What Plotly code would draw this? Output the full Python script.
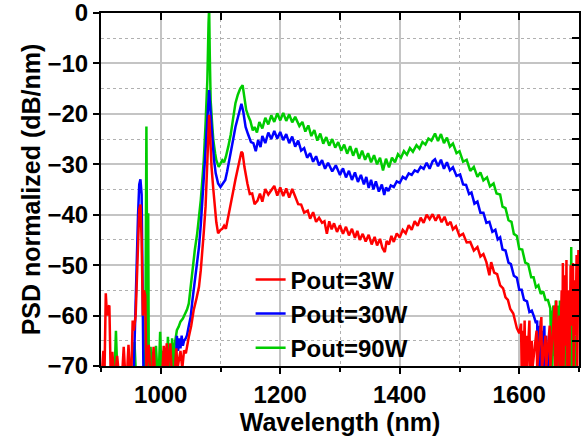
import plotly.graph_objects as go

# ---------------- data ----------------
# Pout=3W (red): low-wavelength noise + pump/Raman peaks, main body, long-wavelength noise
red_wl_a = [902,904,906,908,910,912,914,916,919,921,925,927,929,936,938,940,944,946,948,951,953,955,958,962,964,966,968,970,972,974,976,980,982,986,988,990,1003,1005,1007,1010,1012,1016,1018,1024,1026,1028,1033,1036,1039,1042,1045,1047,1051,1055,1060,1064,1067,1069,1072,1075,1077,1079,1081,1083,1085,1088,1090,1093,1096,1100,1103,1106,1109,1113,1117,1121,1125,1128,1132,1135,1137,1140]
red_db_a = [-70.5,-67,-70.5,-55.6,-60,-58.3,-58,-70.5,-67.2,-70.5,-70.5,-68,-70.5,-70.5,-66.2,-70.5,-70.5,-65.8,-70.5,-70.5,-61,-63,-60,-48,-39,-38,-45,-60,-55,-56,-70.5,-65.8,-70.5,-70.5,-66.2,-70.5,-70.5,-66,-70.5,-65.5,-70.5,-65.5,-70.5,-70.5,-66.5,-70.5,-67,-70.5,-66.9,-67.5,-65,-64.2,-62,-59,-56.5,-54.3,-51,-48.3,-43.5,-38.4,-33,-28.5,-20.2,-25,-30.5,-35,-38.4,-41.5,-43.7,-43,-42.8,-42.2,-42.8,-40.5,-38.4,-35.5,-33,-31.2,-29,-27.5,-27.8,-30.5]
red_wl_b = [1145,1149,1153,1157,1162,1166,1170,1175,1180,1185,1190,1195,1200,1205,1210,1215,1220,1225,1230,1235,1240,1246,1250,1255,1260,1265,1270,1274,1278,1282,1286,1290,1295,1300,1305,1310,1315,1320,1325,1329,1333,1338,1343,1348,1353,1358,1362,1367,1371,1375,1378,1382,1386,1390,1395,1400,1405,1410,1415,1420,1425,1430,1435,1440,1445,1450,1455,1460,1465,1470,1475,1480,1485,1489,1494,1500,1506,1512,1518,1524,1530,1535,1540,1545,1550,1553,1558,1563,1568,1573,1577,1581,1585,1590,1596]
red_db_b = [-33.8,-35.9,-35.8,-37.9,-37.2,-35.8,-37.4,-34.9,-36.0,-35.1,-34.3,-36.2,-34.6,-36.3,-34.8,-36.6,-34.9,-36.4,-37.9,-38.0,-39.6,-39.2,-40.8,-39.5,-41.4,-40.6,-41.6,-41.3,-43.8,-41.3,-42.9,-41.7,-43.4,-42.1,-43.8,-42.4,-44.1,-42.8,-44.6,-43.2,-45.0,-43.8,-45.3,-44.0,-45.9,-44.4,-46.1,-44.8,-46.6,-47.4,-45.2,-45.9,-44.2,-45.4,-43.7,-44.5,-43.0,-43.7,-42.1,-43.0,-41.3,-42.2,-40.6,-41.6,-40.0,-40.9,-39.9,-41.2,-40.0,-41.5,-40.4,-42.1,-41.4,-42.9,-42.3,-44.2,-43.8,-45.5,-45.4,-47.1,-46.4,-48.3,-47.8,-49.4,-52.0,-49.4,-51.5,-51.8,-54.0,-54.6,-56.4,-56.9,-58.7,-59.6,-62.5]
red_wl_c = [1600,1603,1604,1606,1607,1609,1610,1612,1613,1617,1618,1621,1622,1629,1630,1637,1638,1644,1645,1651,1652,1659,1660,1662,1663,1667,1668,1671,1672,1673,1674,1677,1678,1679,1680,1683,1684,1686,1687,1690,1691,1693,1694,1696,1697,1699]
red_db_c = [-63.5,-61.6,-70.5,-63,-70.5,-61,-70.5,-64,-70.5,-61,-70.5,-65,-70.5,-63,-70.5,-60.3,-70.5,-64,-70.5,-62,-70.5,-58,-70.5,-57,-70.5,-60,-70.5,-55,-70.5,-49.6,-70.5,-52,-66,-49,-70.5,-55,-70.5,-50,-62,-49.6,-70.5,-53,-64,-48,-70.5,-47]

# Pout=30W (blue)
blue_wl_a = [955,957,960,962,964,966,968,969,970,971,1025,1027,1029,1031,1033,1035,1037,1039,1042,1044,1047,1050,1053,1056,1060,1064,1067,1070,1073,1075,1078,1080,1081,1083,1086,1089,1092,1096,1100,1104,1108,1111,1114,1117,1121,1125,1129,1132,1135,1138,1142]
blue_db_a = [-70.5,-60.3,-50,-40,-34,-33,-36,-50,-65,-70.5,-70.5,-64,-67,-64.5,-66.5,-64,-66,-65,-64.5,-63.9,-62,-60.3,-57,-54,-50.5,-46.4,-42,-37.1,-31,-27.2,-21,-16,-15.3,-19,-25.2,-29,-31.8,-33.8,-34.5,-33.9,-33.1,-31.5,-29.8,-27.8,-25.2,-22.6,-20.5,-19,-18,-19.5,-22.6]
blue_wl_b = [1146,1151,1155,1159,1163,1167,1170,1175,1180,1185,1190,1195,1200,1205,1210,1215,1220,1225,1230,1235,1240,1245,1250,1255,1260,1265,1270,1275,1280,1287,1293,1300,1305,1310,1315,1320,1325,1330,1335,1340,1344,1348,1352,1356,1360,1365,1370,1374,1377,1381,1385,1390,1395,1400,1405,1410,1415,1420,1425,1430,1435,1440,1445,1450,1455,1459,1464,1469,1474,1479,1484,1489,1495,1501,1506,1511,1516,1520,1525,1530,1535,1540,1545,1550,1555,1560,1564,1568,1572,1577,1582,1586,1591,1596,1600,1604,1608,1613,1617,1621]
blue_db_b = [-24.0,-25.6,-25.8,-27.4,-25.2,-26.6,-24.4,-25.8,-23.7,-25.0,-23.4,-24.9,-23.6,-25.2,-24.0,-25.8,-24.5,-26.5,-25.3,-27.3,-26.8,-28.7,-27.8,-29.5,-28.4,-30.2,-29.2,-30.9,-29.7,-31.4,-30.2,-32.1,-30.8,-32.6,-31.3,-33.1,-31.6,-33.5,-32.1,-34.0,-32.5,-34.7,-33.1,-35.0,-33.4,-35.4,-34.0,-36.1,-34.6,-35.3,-34.2,-34.5,-33.4,-33.7,-32.5,-32.9,-31.8,-32.1,-31.2,-31.5,-30.5,-30.9,-29.7,-30.9,-29.4,-29.0,-30.4,-29.1,-30.9,-29.6,-31.2,-30.6,-32.3,-32.0,-34.0,-34.1,-35.9,-35.6,-37.8,-37.4,-39.6,-39.6,-41.6,-41.4,-43.4,-43.0,-44.9,-44.5,-46.9,-47.1,-49.5,-49.8,-52.1,-52.5,-54.9,-54.9,-56.9,-57.2,-59.3,-59.0]
blue_wl_c = [1625,1628,1630,1631,1633,1634,1636,1637,1639,1640,1642,1643,1645,1646,1648,1649]
blue_db_c = [-60.3,-61.5,-61.0,-70.5,-62,-70.5,-61,-70.5,-63,-70.5,-62,-70.5,-64,-70.5,-66,-70.5]

# Pout=90W (green)
green_wl_a = [923,925,927,955,956,958,974,975,976,977,978,979,980,983,985,990,992,994,997,999,1001,1004,1006,1010,1012,1014,1017,1019,1021,1023,1025,1027,1030,1033,1037,1041,1044,1047,1050,1053,1057,1061,1064,1067,1070,1072,1075,1078,1080,1081,1082,1083.5,1086,1088,1091,1093,1097,1100,1103,1106,1109,1113,1117,1121,1125,1129,1133,1137,1140,1143,1147]
green_db_a = [-70.5,-63,-70.5,-70.5,-65.2,-70.5,-70.5,-40,-22.5,-45,-70.5,-39.7,-70.5,-66.2,-70.5,-70.5,-66,-70.5,-70.5,-63.2,-70.5,-67,-70.5,-70.5,-64.2,-70.5,-70.5,-64.5,-70.5,-66,-64.5,-62.9,-62.2,-61.2,-60.6,-59.6,-58.8,-57.6,-54,-50.3,-47,-43.7,-40.5,-37.1,-32.5,-29.2,-22,-13.2,-2,1,-8,-17.3,-22,-25.2,-27.8,-29.2,-30.5,-29.8,-29.2,-29.6,-28.5,-26.5,-24.2,-21,-17.9,-16.2,-15,-14.3,-16.5,-19.2,-20.6]
green_wl_b = [1150,1154,1157,1161,1165,1170,1175,1180,1185,1190,1195,1200,1205,1210,1215,1220,1225,1232,1237,1242,1247,1252,1257,1262,1267,1272,1277,1282,1287,1292,1297,1302,1307,1312,1317,1322,1327,1332,1337,1342,1347,1352,1357,1362,1367,1372,1377,1382,1387,1392,1397,1402,1407,1412,1417,1422,1428,1433,1438,1443,1448,1453,1459,1464,1469,1474,1479,1484,1489,1495,1500,1506,1512,1518,1524,1530,1535,1540,1546,1551,1557,1562,1568,1572,1577,1582,1587,1591,1596,1600,1605,1610,1615,1620,1624,1628,1632,1636,1640,1644,1648,1652]
green_db_b = [-21.4,-23.3,-22.6,-23.7,-21.6,-22.9,-20.8,-22.1,-20.3,-21.6,-19.9,-21.3,-19.8,-21.4,-20.1,-21.7,-20.6,-22.4,-21.6,-23.5,-22.3,-24.4,-23.2,-25.3,-23.9,-25.9,-24.6,-26.3,-25.0,-26.7,-25.6,-27.3,-26.1,-27.9,-26.4,-28.3,-26.8,-28.9,-27.3,-29.1,-27.8,-29.6,-28.2,-30.0,-28.7,-31.2,-28.9,-30.6,-28.7,-29.6,-28.0,-28.7,-27.4,-28.1,-26.8,-27.5,-26.2,-26.9,-25.6,-26.1,-24.9,-25.3,-23.9,-25.4,-24.0,-25.8,-24.7,-26.5,-25.9,-27.8,-27.4,-29.5,-29.1,-31.3,-30.5,-32.5,-31.6,-33.2,-32.6,-34.4,-33.8,-35.8,-36.0,-38.4,-38.7,-41.1,-41.4,-43.8,-44.2,-46.8,-46.9,-49.5,-49.8,-52.4,-52.4,-54.4,-54.0,-55.7,-55.2,-56.9,-56.9,-58.6]
green_wl_c = [1653,1654,1655,1657,1658,1659,1660,1661,1662,1664,1665,1666,1667,1668,1669,1671,1672,1673,1674,1676,1677,1679,1680,1682,1683,1685,1686,1687,1688,1690,1691,1693,1694]
green_db_c = [-66,-59,-70.5,-58,-68,-60,-70.5,-57,-65,-58,-70.5,-59,-67,-57,-70.5,-60,-66,-58,-70.5,-61,-70.5,-59,-68,-62,-70.5,-56,-70.5,-46.4,-70.5,-60,-70.5,-64,-70.5]

series_names = ["Pout=3W", "Pout=30W", "Pout=90W"]
series_colors = ["#ff0000", "#0000ff", "#00cc00"]

x_range = [900, 1700]
y_range = [-70, 0]
x_ticks = [1000, 1200, 1400, 1600]
y_ticks = [0, -10, -20, -30, -40, -50, -60, -70]

FONT = "Liberation Sans, Arial, sans-serif"

red_wl = red_wl_a + red_wl_b + red_wl_c
red_db = red_db_a + red_db_b + red_db_c
blue_wl = blue_wl_a + blue_wl_b + blue_wl_c
blue_db = blue_db_a + blue_db_b + blue_db_c
green_wl = green_wl_a + green_wl_b + green_wl_c
green_db = green_db_a + green_db_b + green_db_c
assert len(red_wl) == len(red_db) and len(blue_wl) == len(blue_db) and len(green_wl) == len(green_db)

fig = go.Figure()
# draw green first, red last (red on top), legend reversed to read 3W, 30W, 90W
data = [(red_wl, red_db), (blue_wl, blue_db), (green_wl, green_db)]
for i in [2, 1, 0]:
    wl, db = data[i]
    fig.add_trace(go.Scatter(x=wl, y=db, mode="lines", name=series_names[i],
                             line=dict(color=series_colors[i], width=2.5)))

# empty trace for mirrored top/right tick axes
fig.add_trace(go.Scatter(x=[], y=[], xaxis="x2", yaxis="y2", showlegend=False, hoverinfo="skip"))

fig.update_layout(
    width=581, height=436,
    margin=dict(l=101, r=2, t=13, b=70),
    paper_bgcolor="white", plot_bgcolor="white",
    font=dict(family=FONT, color="black"),
    showlegend=True,
    legend=dict(x=0.313, y=0.308, xanchor="left", yanchor="top",
                traceorder="reversed", bgcolor="rgba(0,0,0,0)",
                font=dict(size=24, family=FONT, color="black", weight="bold"),
                itemwidth=30, tracegroupgap=0),
    xaxis=dict(range=x_range, tickmode="array", tickvals=x_ticks, automargin=False,
               ticks="outside", ticklen=6, tickwidth=2, tickcolor="black",
               ticklabeloverflow="allow",
               showline=True, linecolor="black", linewidth=2, mirror=True,
               showgrid=True, gridcolor="#c4c4c4", gridwidth=2,
               tickfont=dict(size=24, family=FONT, weight="bold"),
               title=dict(text="Wavelength (nm)", font=dict(size=25, family=FONT, weight="bold"), standoff=1),
               minor=dict(tickvals=[900, 1100, 1300, 1500, 1700], ticks="outside", ticklen=4,
                          tickwidth=2, tickcolor="black", showgrid=True, gridcolor="#b0b0b0",
                          gridwidth=1, griddash="dot"),
               zeroline=False),
    yaxis=dict(range=y_range, tickmode="array", tickvals=y_ticks, automargin=False,
               ticks="outside", ticklen=6, tickwidth=2, tickcolor="black",
               ticklabeloverflow="allow",
               showline=True, linecolor="black", linewidth=2, mirror=True,
               showgrid=True, gridcolor="#c4c4c4", gridwidth=2,
               tickfont=dict(size=24, family=FONT, weight="bold"),
               title=dict(text="PSD normalized (dB/nm)", font=dict(size=25, family=FONT, weight="bold"), standoff=0),
               minor=dict(tickvals=[-5, -15, -25, -35, -45, -55, -65], ticks="", showgrid=True,
                          gridcolor="#b0b0b0", gridwidth=1, griddash="dot"),
               zeroline=False),
    xaxis2=dict(range=x_range, overlaying="x", side="top", anchor="y2",
                tickmode="array", tickvals=[1000, 1100, 1200, 1300, 1400, 1500, 1600],
                ticks="inside", ticklen=7, tickwidth=2, tickcolor="black",
                showticklabels=False, showgrid=False, showline=False, zeroline=False),
    yaxis2=dict(range=y_range, overlaying="y", side="right", anchor="x2",
                tickmode="array", tickvals=[-5, -10, -15, -20, -25, -30, -35, -40, -45, -50, -55, -60, -65],
                ticks="inside", ticklen=7, tickwidth=2, tickcolor="black",
                showticklabels=False, showgrid=False, showline=False, zeroline=False),
)

fig.write_html("out.html", config={"displayModeBar": False},
               post_script="document.body.style.margin='0';")
